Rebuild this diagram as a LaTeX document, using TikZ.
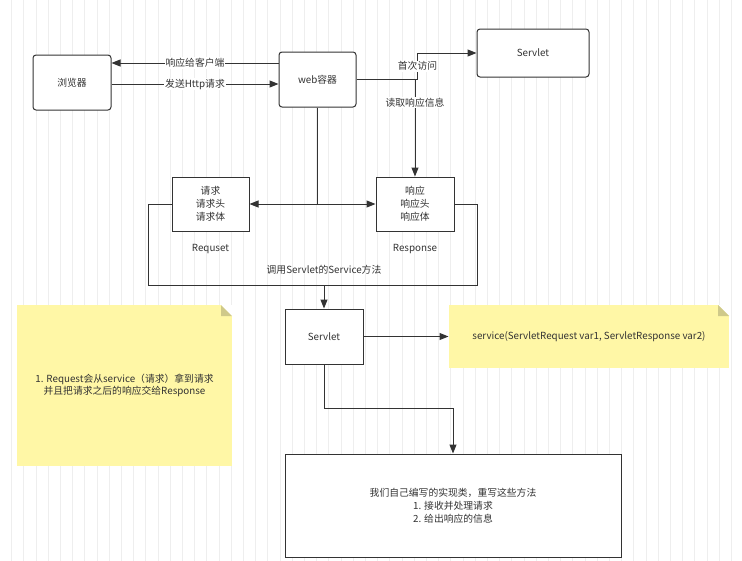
\documentclass[tikz,border=0pt]{standalone}
\usepackage{fontspec}
\setmainfont{Noto Sans CJK SC}
\usepackage{tikz}
\usepackage{xcolor}
\usetikzlibrary{positioning,arrows.meta,calc}

\definecolor{ink}{HTML}{333333}
\definecolor{gridc}{HTML}{EEEEEE}
\definecolor{noteyellow}{HTML}{FFF7A6}
\definecolor{foldc}{HTML}{CFC98A}

\begin{document}
\begin{tikzpicture}[
    x=1pt, y=-1pt,
    line width=1pt,
    draw=ink,
    >={Triangle[length=9pt,width=7pt]},
    font=\fontsize{9.8}{12.8}\selectfont,
    text=ink
]

\tikzstyle{box}=[
    draw=ink,
    fill=white,
    rectangle,
    align=center,
    inner sep=2pt
]
\tikzstyle{rbox}=[box, rounded corners=3pt]
\tikzstyle{arr}=[->, draw=ink]
\tikzstyle{lbl}=[fill=white, inner sep=1pt]
\tikzstyle{note}=[
    fill=noteyellow,
    align=center,
    path picture={
        \fill[white] ([xshift=-11pt]path picture bounding box.north east)
            -- (path picture bounding box.north east)
            -- ([yshift=-11pt]path picture bounding box.north east) -- cycle;
        \fill[foldc] ([xshift=-11pt]path picture bounding box.north east)
            -- ([xshift=-11pt,yshift=-11pt]path picture bounding box.north east)
            -- ([yshift=-11pt]path picture bounding box.north east) -- cycle;
    }
]

\useasboundingbox[fill=white] (0,0) rectangle (742,560);

% background grid
\begin{scope}[shift={(11.5,8.1)}]
\draw[gridc, line width=0.6pt, step=12.2] (-12.2,-12.2) grid (742,560);
\end{scope}

% top row
\node[rbox, minimum width=78pt, minimum height=55pt] (browser) at (72,82.5) {浏览器};
\node[rbox, minimum width=77pt, minimum height=55pt] (web) at (317.5,79.5) {web容器};
\node[rbox, minimum width=112pt, minimum height=48pt] (servletTop) at (533,53) {Servlet};

% request / response
\node[box, minimum width=77pt, minimum height=54pt] (req) at (210.5,204) {请求\\请求头\\请求体};
\node[box, minimum width=78pt, minimum height=54pt] (resp) at (415,204) {响应\\响应头\\响应体};
\node[below=9pt of req] (reqlbl) {Requset};
\node[below=9pt of resp] (resplbl) {Response};

% servlet and notes
\node[box, minimum width=78pt, minimum height=55pt] (servlet) at (324,336.5) {Servlet};
\node[note, minimum width=280pt, minimum height=63pt] (noteR) at (589,336.5)
    {service(ServletRequest var1, ServletResponse var2)};
\node[note, minimum width=215pt, minimum height=161pt] (noteL) at (124.5,385.5)
    {1. Request会从service（请求）拿到请求\\并且把请求之后的响应交给Response};
\node[box, minimum width=336pt, minimum height=103pt] (impl) at (453,505.5)
    {我们自己编写的实现类，重写这些方法\\1. 接收并处理请求\\2. 给出响应的信息};

% browser <-> web container
\draw[arr] ([yshift=16.5pt]web.west) -- ([yshift=16.5pt]web.west -| browser.east)
    node[lbl, midway] {响应给客户端};
\draw[arr] ([yshift=-1.5pt]browser.east) -- ([yshift=-1.5pt]browser.east -| web.west)
    node[lbl, midway] {发送Http请求};

% web container -> servlet / response
\draw[arr] (web.east) -- ++(61,0) |- node[lbl, pos=0.25] {首次访问} (servletTop.west);
\draw[arr] (web.east) -| node[lbl, pos=0.62] {读取响应信息} (resp.north);

% web container -> request / response
\coordinate (split) at (web.south |- req.east);
\draw (web.south) -- (split);
\draw[arr] (split) -- (req.east);
\draw[arr] (split) -- (resp.west);

% loop into servlet
\coordinate (loopjoin) at ([yshift=23pt]servlet.north);
\draw (req.west) -- ++(-23,0) |- (loopjoin) -| ([xshift=23pt]resp.east) -- (resp.east);
\draw[arr] (loopjoin) -- (servlet.north);
\node (calllbl) at ([yshift=16pt]loopjoin) {调用Servlet的Service方法};

% servlet -> note / implementation
\draw[arr] (servlet.east) -- (noteR.west);
\draw[arr] (servlet.south) -- ++(0,44) -| (impl.north);

\end{tikzpicture}
\end{document}
